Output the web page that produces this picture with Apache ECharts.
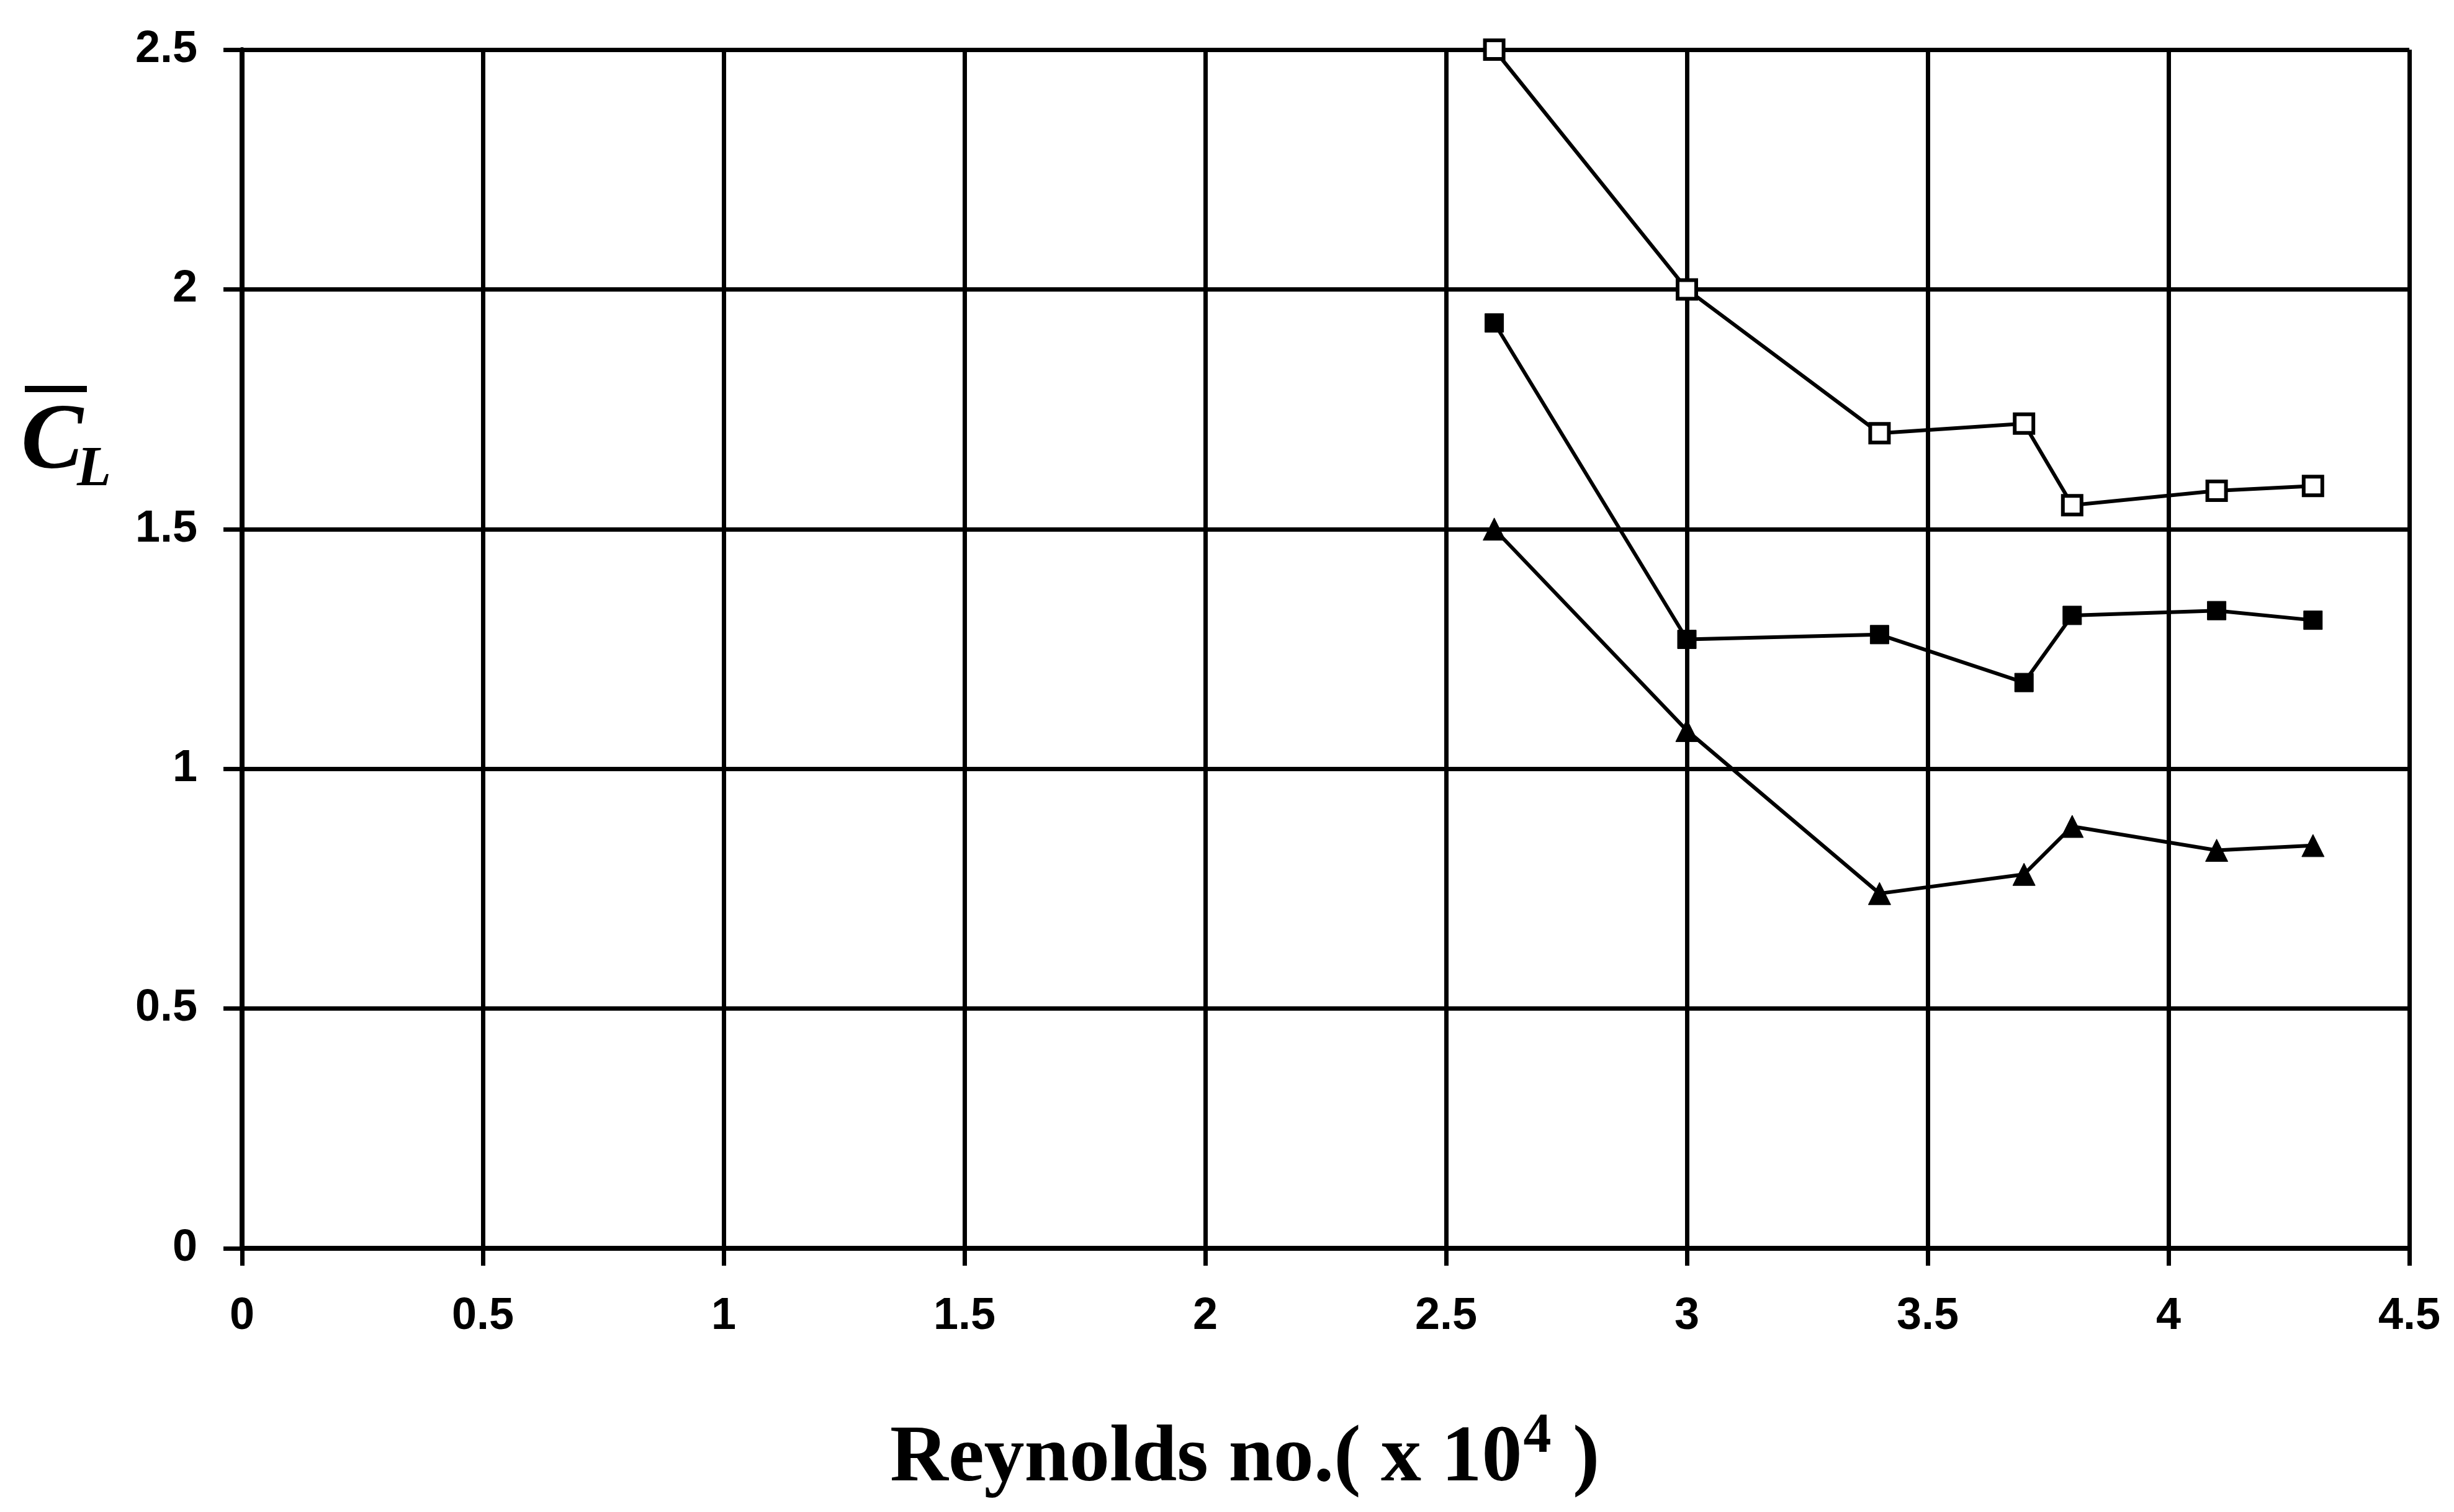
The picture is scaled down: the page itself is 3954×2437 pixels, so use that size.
<!DOCTYPE html>
<html>
<head>
<meta charset="utf-8">
<script src="https://cdn.jsdelivr.net/npm/echarts@6/dist/echarts.min.js"></script>
<style>
html,body{margin:0;padding:0;background:#fff;}
#chart{width:3954px;height:2437px;}
</style>
</head>
<body>
<div id="chart"></div>
<script>
// Reynolds number (x 10^4)
const reynolds = [2.6, 3.0, 3.4, 3.7, 3.8, 4.1, 4.3];
// Mean lift coefficient series
const clOpenSquare   = [2.50, 2.00, 1.70, 1.72, 1.55, 1.58, 1.59];
const clFilledSquare = [1.93, 1.27, 1.28, 1.18, 1.32, 1.33, 1.31];
const clTriangle     = [1.50, 1.08, 0.74, 0.78, 0.88, 0.83, 0.84];
const xTicks = [0, 0.5, 1, 1.5, 2, 2.5, 3, 3.5, 4, 4.5];
const yTicks = [0, 0.5, 1, 1.5, 2, 2.5];
const xTitle = 'Reynolds no.( x 10';
const xTitleSup = '4';

function pairs(xs, ys){ return xs.map((x,i)=>[x, ys[i]]); }

const chart = echarts.init(document.getElementById('chart'));
const lineStyle = {color:'#000', width:6};
const option = {
  backgroundColor:'#fff',
  animation:false,
  grid:{left:390, top:80, width:3492, height:1932},
  xAxis:{
    type:'value', min:xTicks[0], max:xTicks[xTicks.length-1], interval:0.5,
    axisLine:{show:true, lineStyle:{color:'#000', width:8}},
    axisTick:{show:true, length:28, lineStyle:{color:'#000', width:7}},
    splitLine:{show:true, lineStyle:{color:'#000', width:7}},
    axisLabel:{color:'#000', fontFamily:'Liberation Sans', fontWeight:'bold', fontSize:72, margin:74}
  },
  yAxis:{
    type:'value', min:yTicks[0], max:yTicks[yTicks.length-1], interval:0.5,
    axisLine:{show:true, lineStyle:{color:'#000', width:8}},
    axisTick:{show:true, length:30, lineStyle:{color:'#000', width:7}},
    splitLine:{show:true, lineStyle:{color:'#000', width:7}},
    axisLabel:{color:'#000', fontFamily:'Liberation Sans', fontWeight:'bold', fontSize:72, margin:72}
  },
  graphic:[
    {type:'line', shape:{x1:40, y1:627, x2:140, y2:627}, style:{stroke:'#000', lineWidth:10}},
    {type:'text', left:34, top:640, style:{text:'C', font:'italic bold 150px "Liberation Serif"', fill:'#000'}},
    {type:'text', left:124, top:714, style:{text:'L', font:'italic bold 90px "Liberation Serif"', fill:'#000'}},
    {type:'text', left:1434, top:2272, style:{
      text:'{a|' + xTitle + '}{s|' + xTitleSup + '}{a| )}',
      rich:{
        a:{font:'bold 130px "Liberation Serif"', fill:'#000', verticalAlign:'bottom', lineHeight:145},
        s:{font:'bold 90px "Liberation Serif"', fill:'#000', verticalAlign:'top', lineHeight:145, padding:[0,2,64,2]}
      }
    }}
  ],
  series:[
    {type:'line', data:pairs(reynolds, clOpenSquare), symbol:'rect', symbolSize:30,
     lineStyle:lineStyle, itemStyle:{color:'#fff', borderColor:'#000', borderWidth:6}},
    {type:'line', data:pairs(reynolds, clFilledSquare), symbol:'rect', symbolSize:30,
     lineStyle:lineStyle, itemStyle:{color:'#000', borderColor:'#000', borderWidth:1}},
    {type:'line', data:pairs(reynolds, clTriangle), symbol:'triangle', symbolSize:36,
     lineStyle:lineStyle, itemStyle:{color:'#000', borderColor:'#000', borderWidth:1}}
  ]
};
chart.setOption(option);
</script>
</body>
</html>
